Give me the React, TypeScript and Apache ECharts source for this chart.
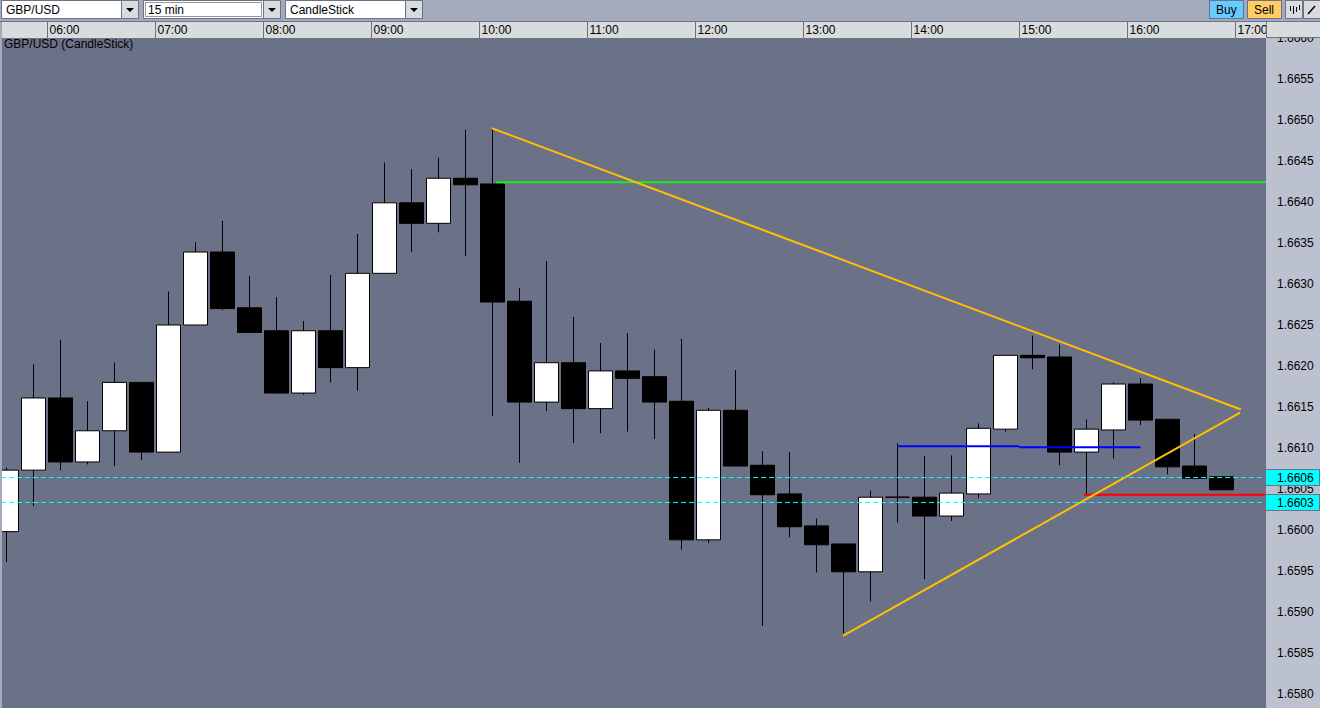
import React, { useEffect, useRef } from "react";
import * as echarts from "echarts";

const times = ["05:30","05:45","06:00","06:15","06:30","06:45","07:00","07:15","07:30","07:45","08:00","08:15","08:30","08:45","09:00","09:15","09:30","09:45","10:00","10:15","10:30","10:45","11:00","11:15","11:30","11:45","12:00","12:15","12:30","12:45","13:00","13:15","13:30","13:45","14:00","14:15","14:30","14:45","15:00","15:15","15:30","15:45","16:00","16:15","16:30","16:45","17:00","17:15"];

// open, close, low, high
const candles = [
  [1.65998,1.66073,1.65961,1.66076],
  [1.66073,1.66161,1.66029,1.66202],
  [1.66161,1.66083,1.66073,1.66232],
  [1.66083,1.66121,1.66080,1.66157],
  [1.66121,1.66180,1.66078,1.66204],
  [1.66180,1.66095,1.66085,1.66180],
  [1.66095,1.66250,1.66095,1.66291],
  [1.66250,1.66339,1.66250,1.66351],
  [1.66339,1.66270,1.66268,1.66377],
  [1.66271,1.66241,1.66241,1.66310],
  [1.66243,1.66167,1.66167,1.66284],
  [1.66167,1.66243,1.66165,1.66255],
  [1.66243,1.66198,1.66180,1.66311],
  [1.66198,1.66313,1.66170,1.66361],
  [1.66313,1.66399,1.66313,1.66448],
  [1.66399,1.66374,1.66339,1.66440],
  [1.66374,1.66429,1.66363,1.66454],
  [1.66429,1.66421,1.66334,1.66488],
  [1.66422,1.66278,1.66139,1.66490],
  [1.66279,1.66156,1.66082,1.66295],
  [1.66156,1.66204,1.66145,1.66328],
  [1.66204,1.66148,1.66106,1.66260],
  [1.66148,1.66194,1.66118,1.66228],
  [1.66194,1.66185,1.66120,1.66240],
  [1.66187,1.66156,1.66111,1.66220],
  [1.66157,1.65988,1.65976,1.66233],
  [1.65988,1.66146,1.65984,1.66149],
  [1.66146,1.66078,1.66078,1.66195],
  [1.66079,1.66043,1.65883,1.66096],
  [1.66044,1.66004,1.65991,1.66095],
  [1.66005,1.65982,1.65948,1.66014],
  [1.65983,1.65949,1.65874,1.65983],
  [1.65949,1.66040,1.65913,1.66048],
  [1.66040,1.66040,1.66009,1.66106],
  [1.66040,1.66017,1.65940,1.66090],
  [1.66017,1.66045,1.66011,1.66091],
  [1.66044,1.66124,1.66039,1.66130],
  [1.66123,1.66213,1.66120,1.66213],
  [1.66213,1.66210,1.66196,1.66237],
  [1.66211,1.66095,1.66079,1.66226],
  [1.66095,1.66123,1.66044,1.66135],
  [1.66122,1.66178,1.66087,1.66180],
  [1.66178,1.66134,1.66128,1.66185],
  [1.66135,1.66077,1.66068,1.66134],
  [1.66078,1.66063,1.66062,1.66117],
  [1.66065,1.66049,1.66049,1.66065],
];

const upperTrend = [[17.98,1.66490],[45.72,1.66147]];
const lowerTrend = [[30.98,1.65871],[45.69,1.66143]];
const greenLevel = [[18.13,1.66424],[47.5,1.66424]];
const blueLevelA = [[33.02,1.66102],[37.5,1.66102]];
const blueLevelB = [[37.5,1.66101],[42,1.66101]];
const redLevel = [[39.9,1.66043],[47.5,1.66043]];
const bidLevel = [[-0.5,1.66064],[47.5,1.66064]];
const askLevel = [[-0.5,1.660335],[47.5,1.660335]];
const priceTags = [1.66064,1.660335];

const symbolBox = "GBP/USD";
const periodBox = "15 min";
const typeBox = "CandleStick";
const chartTitle = "GBP/USD (CandleStick)";

const FONT = "'Liberation Sans', Arial, sans-serif";
const BG = "#6b7186";
const PANEL = "#bcc1cf";
const BAR = "#a4aabd";
const HEAD = "#d8dcdf";
const EDGE = "#6b7186";

const rect = (x:number,y:number,w:number,h:number,fill:string,z:number,stroke?:string) => ({
  type:"rect", z, silent:true,
  shape:{x,y,width:w,height:h},
  style:{fill, stroke: stroke||undefined, lineWidth: stroke?1:0},
});
const txt = (x:number,y:number,text:string,z:number) => ({
  type:"text", z, silent:true, x, y,
  style:{text, fill:"#000", font:`12px ${FONT}`, textVerticalAlign:"middle"},
});
const line = (x1:number,y1:number,x2:number,y2:number,z:number,lw=1) => ({
  type:"line", z, silent:true,
  shape:{x1,y1,x2,y2},
  style:{stroke:"#000", lineWidth:lw},
});
const arrow = (cx:number,z:number) => ({
  type:"polygon", z, silent:true,
  shape:{points:[[cx-4,8],[cx+4,8],[cx,12]]},
  style:{fill:"#000"},
});
const combo = (x:number,w:number,label:string,z:number) => [
  rect(x+0.5,0.5,w,18,"#fff",z,EDGE),
  rect(x+w+0.5,0.5,17,18,HEAD,z,EDGE),
  arrow(x+w+9,z+1),
  txt(x+5,10,label,z+1),
];

const overlays = () => {
  const Z = 30;
  return [
    // time-scale strip sits under the x axis ticks and labels
    rect(2,22,1264,16,HEAD,3),
    rect(0,0,1320,22,BAR,Z),
    rect(0,21,1320,1,EDGE,Z),
    rect(1266,22,54,16,HEAD,Z),
    rect(1266,22,1,16,EDGE,Z),
    rect(1266,37,54,1,EDGE,Z),
    rect(0,22,2,686,BAR,Z),
    ...combo(1,120,symbolBox,Z+1),
    ...combo(143,120,periodBox,Z+1),
    {type:"rect",z:Z+3,silent:true,shape:{x:145.5,y:2.5,width:116,height:14},style:{fill:"none",stroke:"#333",lineWidth:1,lineDash:[1,1]}},
    ...combo(285,120,typeBox,Z+1),
    rect(1209.5,0.5,34,18,"#66ccff",Z+1,EDGE),
    txt(1216,10,"Buy",Z+2),
    rect(1247.5,0.5,34,18,"#ffcc66",Z+1,EDGE),
    txt(1254,10,"Sell",Z+2),
    rect(1285.5,0.5,17,18,HEAD,Z+1,EDGE),
    rect(1303.5,0.5,17,18,HEAD,Z+1,EDGE),
    line(1290.5,6,1290.5,11,Z+2),
    line(1293.5,6,1293.5,14,Z+2),
    line(1296.5,7,1296.5,12,Z+2),
    line(1299.5,5,1299.5,10,Z+2),
    line(1308,14,1315,6,Z+2,1.5),
    // axis panel sits under the axis labels, above the series
    rect(1266,38,54,670,PANEL,10),
  ];
};

const lineSeries = (data:number[][], color:string, width:number, z:number, dash?:number[]) => ({
  type:"line", xAxisIndex:1, yAxisIndex:0, data, z, symbol:"none", silent:true, clip:true,
  lineStyle:{color, width, type: dash||"solid"},
});

export default function App() {
  const ref = useRef<HTMLDivElement>(null);
  useEffect(() => {
    document.body.style.margin = "0";
    const chart = echarts.init(ref.current!, undefined, { renderer: "svg" });
    chart.setOption({
      animation:false,
      backgroundColor:BG,
      textStyle:{fontFamily:FONT},
      title:{text:chartTitle,left:4,top:38,padding:0,textStyle:{fontSize:12,fontWeight:"normal",color:"#000",fontFamily:FONT}},
      grid:{left:-7,top:38,width:1296,height:697,containLabel:false,outerBoundsMode:"none"},
      xAxis:[
        {type:"category",position:"top",data:times,boundaryGap:true,z:5,
          axisLine:{show:true,lineStyle:{color:EDGE,width:1}},
          axisTick:{show:true,length:16,lineStyle:{color:EDGE},interval:(i:number)=>times[i].endsWith(":00")},
          axisLabel:{show:true,color:"#000",fontSize:12,fontFamily:FONT,align:"left",margin:2,padding:[0,0,0,16],hideOverlap:false,
            interval:(i:number)=>i+1<times.length&&times[i+1].endsWith(":00"),
            formatter:(_v:string,i:number)=>times[i+1]||""},
          splitLine:{show:false}},
        {type:"value",min:-0.5,max:47.5,show:false,scale:true,splitLine:{show:false}},
      ],
      yAxis:[
        {type:"value",position:"right",offset:-23,min:1.6575,max:1.666,interval:0.0005,z:20,
          axisLine:{show:false},axisTick:{show:false},splitLine:{show:false},
          axisLabel:{color:"#000",fontSize:12,fontFamily:FONT,margin:11,formatter:(v:number)=>v<1.6578?"":v.toFixed(4)}},
        {type:"value",position:"right",offset:-23,min:1.6575,max:1.666,z:21,
          axisLine:{show:false},axisTick:{show:false},splitLine:{show:false},
          axisLabel:{customValues:priceTags,color:"#000",fontSize:12,fontFamily:FONT,margin:0,
            backgroundColor:"#00ffff",borderColor:EDGE,borderWidth:1,padding:[2,6,1,11],width:36,
            showMinLabel:true,showMaxLabel:true,
            formatter:(v:number)=>v.toFixed(4)}},
      ],
      graphic:{elements:overlays()},
      series:[
        {type:"candlestick",xAxisIndex:0,yAxisIndex:0,data:candles,barWidth:25,z:2,silent:true,
          itemStyle:{color:"#ffffff",color0:"#000000",borderColor:"#000000",borderColor0:"#000000",borderWidth:1}},
        lineSeries(greenLevel,"#18f018",2,3),
        lineSeries(blueLevelA,"#0000ff",2,3),
        lineSeries(blueLevelB,"#0000ff",2,3),
        lineSeries(redLevel,"#ff0000",2,3),
        lineSeries(upperTrend,"#ffc000",2,4),
        lineSeries(lowerTrend,"#ffc000",2,4),
        lineSeries(bidLevel,"#00ffff",1,5,[5,3]),
        lineSeries(askLevel,"#00ffff",1,5,[5,3]),
      ],
    });
    return () => chart.dispose();
  }, []);
  return <div ref={ref} style={{width:1320,height:708}} />;
}
